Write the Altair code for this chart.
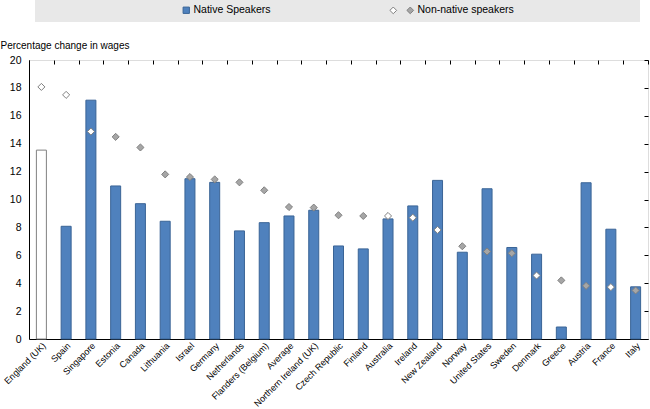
import altair as alt
import pandas as pd

countries = ["England (UK)", "Spain", "Singapore", "Estonia", "Canada", "Lithuania",
             "Israel", "Germany", "Netherlands", "Flanders (Belgium)", "Average",
             "Northern Ireland (UK)", "Czech Republic", "Finland", "Australia", "Ireland",
             "New Zealand", "Norway", "United States", "Sweden", "Denmark", "Greece",
             "Austria", "France", "Italy"]
native = [13.54, 8.08, 17.12, 10.97, 9.70, 8.44, 11.49, 11.23, 7.75, 8.34, 8.82, 9.23,
          6.67, 6.46, 8.61, 9.54, 11.37, 6.22, 10.77, 6.56, 6.08, 0.86, 11.20, 7.87, 3.74]
nonnative = [18.07, 17.50, 14.87, 14.49, 13.73, 11.80, 11.61, 11.44, 11.23, 10.66, 9.46, 9.42,
             8.87, 8.82, 8.82, 8.70, 7.82, 6.65, 6.27, 6.15, 4.55, 4.20, 3.81, 3.72, 3.48]
marker = ["w", "w", "w", "g", "g", "g", "g", "g", "g", "g", "g", "g",
          "g", "g", "w", "w", "w", "g", "g", "g", "w", "g", "g", "w", "g"]

FONT = "Liberation Sans, Arial, sans-serif"

df = pd.DataFrame({
    "Country": countries,
    "Native": native,
    "NonNative": nonnative,
    "Marker": ["Non-native speakers" if m == "g" else "w" for m in marker],
    "BarGroup": ["England" if c == "England (UK)" else "Native Speakers" for c in countries],
})

xscale = alt.Scale(paddingInner=0, paddingOuter=0)
yscale = alt.Scale(domain=[0, 20], nice=False)

base = alt.Chart(df)

bg = alt.Chart(pd.DataFrame({"k": [0]})).mark_rect(color="#e8e8e8").encode(
    x=alt.value(6), x2=alt.value(611), y=alt.value(-60), y2=alt.value(-38)
)

bars = base.mark_bar(size=10, strokeWidth=1).encode(
    x=alt.X("Country:N", sort=countries, scale=xscale,
            axis=alt.Axis(title=None, labelAngle=-45, labelAlign="right", labelBaseline="top",
                          ticks=False, domain=True, domainColor="#000000", labelPadding=2,
                          labelFontSize=9, labelColor="#000000", labelFont=FONT)),
    y=alt.Y("Native:Q", scale=yscale,
            axis=alt.Axis(title="Percentage change in wages", titleAngle=0, titleAlign="left",
                          titleBaseline="bottom", titleX=-29, titleY=-10, titleFontSize=10,
                          titleFontWeight="normal", titleFont=FONT, titleColor="#000000",
                          values=list(range(0, 21, 2)), grid=False, ticks=False,
                          domainColor="#000000", labelPadding=8, labelFontSize=10.5,
                          labelColor="#000000", labelFont=FONT)),
    fill=alt.Fill("BarGroup:N",
                  scale=alt.Scale(domain=["Native Speakers", "England"], range=["#4f81bd", "#ffffff"]),
                  legend=alt.Legend(title=None, values=["Native Speakers"], orient="none",
                                    legendX=152, legendY=-55, symbolType="square", symbolSize=40,
                                    symbolStrokeColor="#3a6496", symbolStrokeWidth=1,
                                    labelFontSize=10.5, labelFont=FONT, labelColor="#000000",
                                    labelOffset=2, padding=0)),
    stroke=alt.condition(alt.datum.Country == "England (UK)", alt.value("#808080"), alt.value("#3a6496")),
)

points = base.mark_point(shape="diamond", filled=True, size=50, stroke="#808080",
                         strokeWidth=1, opacity=1).encode(
    x=alt.X("Country:N", sort=countries, scale=xscale,
            axis=alt.Axis(title=None, labels=False, domain=False, ticks=True, tickBand="extent",
                          tickSize=4, offset=-4, tickColor="#000000")),
    y=alt.Y("NonNative:Q", scale=yscale,
            axis=alt.Axis(title=None, labels=False, domain=False, ticks=True, tickSize=4,
                          offset=-4, grid=False, values=list(range(0, 21, 2)), tickColor="#000000")),
    fill=alt.Fill("Marker:N",
                  scale=alt.Scale(domain=["w", "Non-native speakers"], range=["#ffffff", "#a6a6a6"]),
                  legend=alt.Legend(title=None, orient="none", legendX=359, legendY=-55,
                                    direction="horizontal", columns=2, columnPadding=3,
                                    symbolType="diamond", symbolSize=45,
                                    symbolStrokeColor="#808080", symbolStrokeWidth=1,
                                    labelExpr="datum.label == 'w' ? '' : datum.label",
                                    labelFontSize=10.5, labelFont=FONT, labelColor="#000000",
                                    labelOffset=2, padding=0)),
)

chart = alt.layer(bg, bars, points).resolve_scale(
    fill="independent"
).resolve_axis(
    x="independent", y="independent"
).properties(
    width=619, height=279,
    autosize=alt.AutoSizeParams(type="none"),
    padding={"left": 29, "top": 60, "right": 2, "bottom": 70},
    background="#ffffff",
).configure_view(
    fill="#f3fbfe", stroke="#000000", strokeWidth=1
).configure(font=FONT)

chart.save("out.html", embed_options={"renderer": "svg", "actions": False})
